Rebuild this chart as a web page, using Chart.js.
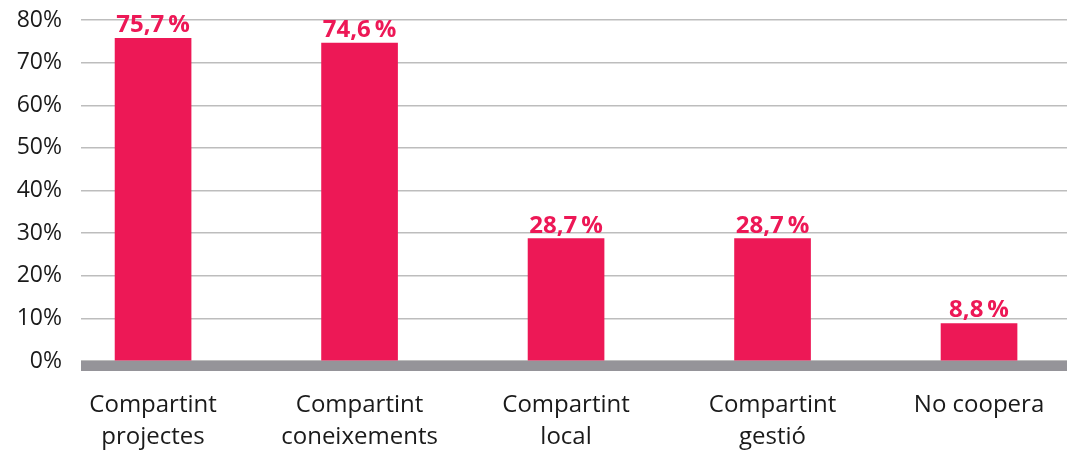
<!DOCTYPE html>
<html>
<head>
<meta charset="utf-8">
<script src="https://cdn.jsdelivr.net/npm/chart.js@4"></script>
<style>
  html, body { margin: 0; padding: 0; background: #fff; }
  #wrap { width: 1067px; height: 455px; }
</style>
</head>
<body>
<div id="wrap"><canvas id="coopChart"></canvas></div>
<script>
// Dades del gràfic
const categories = [
  ['Compartint', 'projectes'],
  ['Compartint', 'coneixements'],
  ['Compartint', 'local'],
  ['Compartint', 'gestió'],
  ['No coopera']
];
const values = [75.7, 74.6, 28.7, 28.7, 8.8];
const yTicks = [0, 10, 20, 30, 40, 50, 60, 70, 80];

const pink = '#ED1856';
const fontFamily = '"Open Sans", "Noto Sans", sans-serif';

// Barra grisa de l'eix a 0%
const baseBar = {
  id: 'baseBar',
  afterDatasetsDraw(chart) {
    const { ctx, chartArea } = chart;
    const y0 = chart.scales.y.getPixelForValue(0);
    ctx.save();
    ctx.fillStyle = '#959499';
    ctx.fillRect(chartArea.left, y0, chartArea.right - chartArea.left, 10);
    ctx.restore();
  }
};

// Etiquetes de valor sobre cada barra
const valueLabels = {
  id: 'valueLabels',
  afterDatasetsDraw(chart) {
    const { ctx } = chart;
    const meta = chart.getDatasetMeta(0);
    ctx.save();
    ctx.fillStyle = pink;
    ctx.font = 'bold 24px ' + fontFamily;
    ctx.textAlign = 'center';
    ctx.textBaseline = 'alphabetic';
    meta.data.forEach((bar, i) => {
      const txt = values[i].toFixed(1).replace('.', ',') + '\u2009%';
      ctx.fillText(txt, bar.x, bar.y - 6);
    });
    ctx.restore();
  }
};

const ctx = document.getElementById('coopChart').getContext('2d');
new Chart(ctx, {
  type: 'bar',
  data: {
    datasets: [{
      data: values.map((v, i) => ({ x: i, y: v })),
      backgroundColor: pink,
      barThickness: 76
    }]
  },
  options: {
    responsive: true,
    maintainAspectRatio: false,
    animation: false,
    layout: { padding: { top: 20, right: 0, left: 0, bottom: 0 } },
    plugins: {
      legend: { display: false },
      tooltip: { enabled: false }
    },
    scales: {
      x: {
        type: 'linear',
        min: -0.349,
        max: 4.426,
        offset: false,
        afterBuildTicks(scale) {
          scale.ticks = categories.map((c, i) => ({ value: i }));
        },
        afterFit(scale) {
          scale.height = 94;
          scale.paddingLeft = 0;
          scale.paddingRight = 0;
          scale.paddingTop = 0;
          scale.paddingBottom = 0;
        },
        grid: { display: false, drawTicks: false },
        border: { display: false },
        ticks: {
          padding: 28,
          maxRotation: 0,
          autoSkip: false,
          color: '#1a1a1a',
          font: { family: fontFamily, size: 24, lineHeight: 1.35 },
          callback: (v) => categories[v]
        }
      },
      y: {
        min: 0,
        max: 80,
        afterBuildTicks(scale) {
          scale.ticks = yTicks.map(v => ({ value: v }));
        },
        afterFit(scale) {
          scale.width = 81;
          scale.paddingTop = 0;
          scale.paddingBottom = 0;
          scale.paddingLeft = 0;
          scale.paddingRight = 0;
        },
        grid: { color: '#bdbdbd', lineWidth: 1.5, drawTicks: false },
        border: { display: false },
        ticks: {
          padding: 19,
          color: '#1a1a1a',
          font: { family: fontFamily, size: 23 },
          callback: (v) => v + '%'
        }
      }
    }
  },
  plugins: [baseBar, valueLabels]
});
</script>
</body>
</html>
